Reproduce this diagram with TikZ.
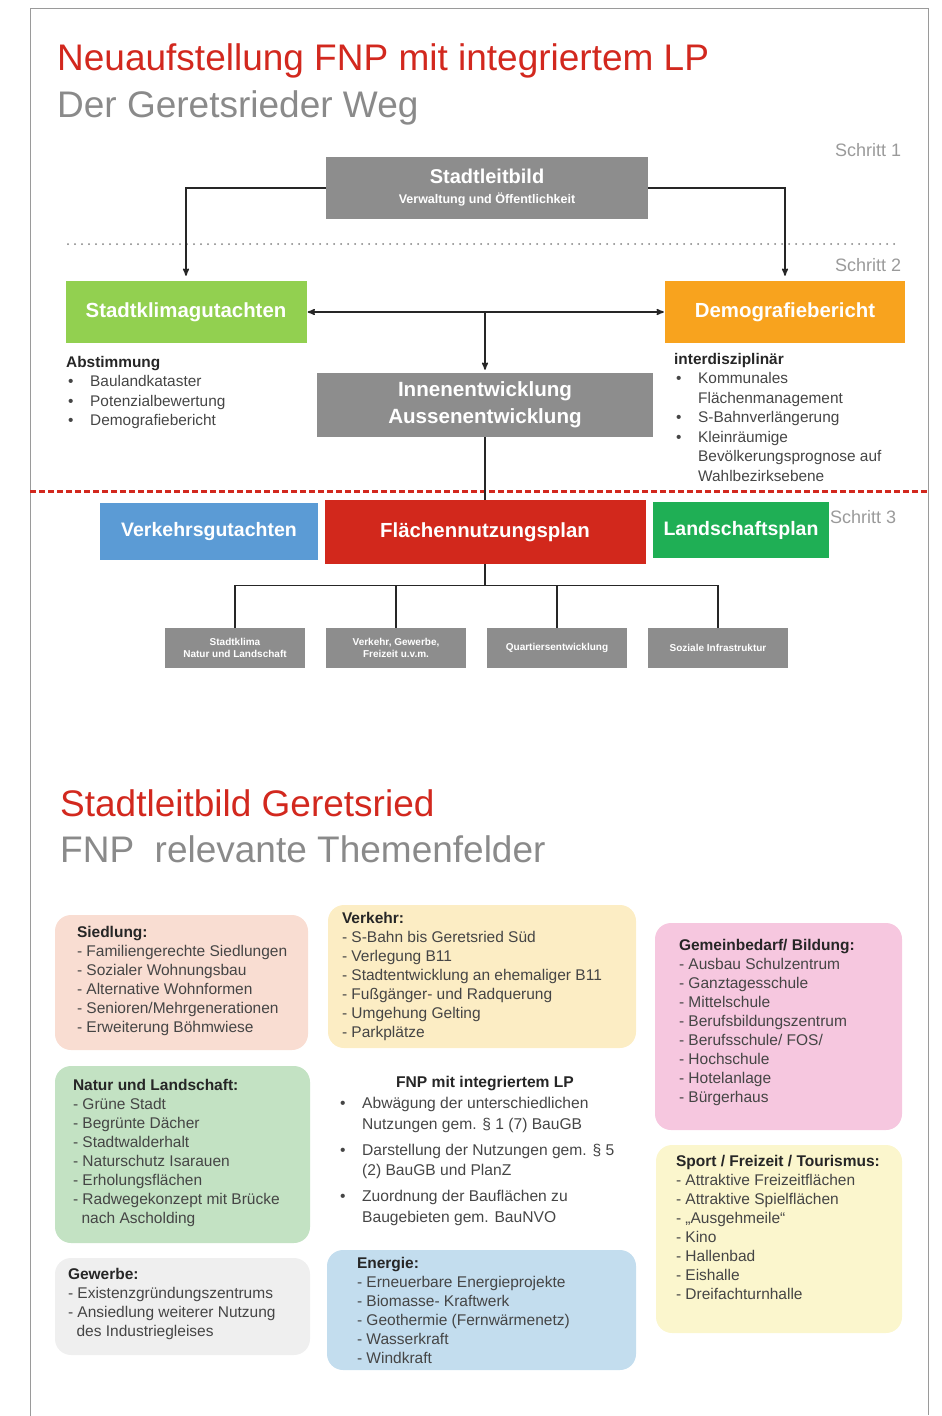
\documentclass[tikz,border=0pt]{standalone}
\usepackage{fontspec}
\setmainfont{Liberation Sans}
\usetikzlibrary{arrows,calc,positioning}
\definecolor{titlered}{HTML}{D2281E}
\definecolor{titlegray}{HTML}{8A8A8A}
\definecolor{framegray}{HTML}{9A9A9A}
\definecolor{boxgray}{HTML}{8D8D8D}
\definecolor{klimagreen}{HTML}{92D050}
\definecolor{demoorange}{HTML}{F8A31E}
\definecolor{verkblue}{HTML}{5B9BD5}
\definecolor{fnpred}{HTML}{D2281C}
\definecolor{lpgreen}{HTML}{1FAF55}
\definecolor{siedlcol}{HTML}{F9DDD2}
\definecolor{verkcol}{HTML}{FCEDC4}
\definecolor{gemeincol}{HTML}{F6C7DF}
\definecolor{naturcol}{HTML}{C3E2C3}
\definecolor{sportcol}{HTML}{FBF6CD}
\definecolor{gewerbecol}{HTML}{EFEFEF}
\definecolor{energiecol}{HTML}{C3DDEE}
\definecolor{textgray}{HTML}{454545}
\newcommand{\punkt}{\makebox[24pt][l]{\hspace{2pt}\textbullet}}
\newcommand{\einzug}{\hspace*{24pt}}
\tikzset{
    headline/.style = {anchor=base west,
                    inner sep=0pt,
                    font=\fontsize{37}{40}\selectfont},
    schritt/.style = {anchor=base west,
                    inner sep=0pt,
                    text=framegray,
                    font=\fontsize{18}{20}\selectfont},
    graybox/.style = {rectangle,
                    fill=boxgray,
                    text=white,
                    inner sep=0pt,
                    align=center,
                    font=\fontsize{20.6}{27}\selectfont\bfseries},
    colbox/.style = {rectangle,
                    text=white,
                    inner sep=0pt,
                    align=center,
                    font=\fontsize{20.4}{24}\selectfont\bfseries},
    subbox/.style = {rectangle,
                    fill=boxgray,
                    text=white,
                    inner sep=0pt,
                    align=center,
                    minimum width=140,
                    minimum height=40,
                    font=\fontsize{10}{12}\selectfont\bfseries},
    themebox/.style = {rectangle,
                    rounded corners=16pt,
                    inner sep=0pt},
    themetext/.style = {anchor=west,
                    inner sep=0pt,
                    align=left,
                    text=textgray,
                    font=\fontsize{15.5}{19}\selectfont},
    notetext/.style = {anchor=north west,
                    inner sep=0pt,
                    align=left,
                    text=textgray,
                    font=\fontsize{15.4}{19.5}\selectfont},
    flow/.style = {line width=1.5pt,
                    draw=black!85},
    dotline/.style = {line width=2pt,
                    draw=black!50,
                    line cap=round,
                    dash pattern=on 0pt off 7pt},
    reddash/.style = {line width=3pt,
                    draw=titlered,
                    dash pattern=on 6pt off 3pt},
    >=stealth',
    shorten >= 1pt}

\begin{document}
\begin{tikzpicture}[x=1pt,y=-1pt]
    \useasboundingbox (0,0) rectangle (942,1416);
    \draw[framegray, line width=1pt] (30,1416) -- (30,8) -- (928,8) -- (928,1416);

    % Der Geretsrieder Weg
    \node[headline, text=titlered]  (title1) at (57,70)  {Neuaufstellung FNP mit integriertem LP};
    \node[headline, text=titlegray] (title2) at (57,117) {Der Geretsrieder Weg};

    \node[schritt] (schritt1) at (835,156) {Schritt 1};
    \node[graybox, font=\fontsize{20}{27}\selectfont\bfseries, minimum width=322, minimum height=62] (leitbild) at (487,188)
        {Stadtleitbild\\[-7pt]{\fontsize{12.5}{14}\selectfont Verwaltung und Öffentlichkeit}};

    \draw[dotline] (68,244) -- (900,244);
    \node[schritt] (schritt2) at (835,271) {Schritt 2};

    \node[colbox, fill=klimagreen, minimum width=241, minimum height=62] (klima) at (186,312) {Stadtklimagutachten};
    \node[colbox, fill=demoorange, minimum width=240, minimum height=62] (demo) at (785,312) {Demografiebericht};
    \node[graybox, minimum width=336, minimum height=64] (innen) at (485,405) {Innenentwicklung\\Aussenentwicklung};

    \node[notetext] (abstimmung) at (66,356)
        {\textcolor{black!85}{\textbf{Abstimmung}}\\
         \punkt Baulandkataster\\
         \punkt Potenzialbewertung\\
         \punkt Demografiebericht};
    \node[notetext] (interdis) at (674,353)
        {\textcolor{black!85}{\textbf{interdisziplinär}}\\
         \punkt Kommunales\\
         \einzug Flächenmanagement\\
         \punkt S-Bahnverlängerung\\
         \punkt Kleinräumige\\
         \einzug Bevölkerungsprognose auf\\
         \einzug Wahlbezirksebene};

    \path [flow, shorten >=5pt] (leitbild.west) edge [->, to path={-| (\tikztotarget)}] (klima.north)
                                (leitbild.east) edge [->, to path={-| (\tikztotarget)}] (demo.north);
    \draw[flow, <->, shorten <=1pt] (klima.east) -- (demo.west);
    \coordinate (split) at (innen.north |- klima.east);
    \draw[flow, ->, shorten >=3pt] (split) -- (innen.north);

    \draw[reddash] (30,491) -- (928,491);
    \node[schritt] (schritt3) at (830,523) {Schritt 3};

    \node[colbox, fill=verkblue, font=\fontsize{19.5}{24}\selectfont\bfseries, minimum width=218, minimum height=57] (verkehr) at (209,531.5) {Verkehrsgutachten};
    \node[colbox, fill=fnpred,   minimum width=321, minimum height=64] (fnp) at (485,532) {Flächennutzungsplan};
    \node[colbox, fill=lpgreen,  font=\fontsize{19.5}{24}\selectfont\bfseries, minimum width=176, minimum height=56] (lp) at (741,530) {Landschaftsplan};
    \draw[flow, shorten >=0pt] (innen.south) -- (fnp.north);

    \node[subbox] (sub1) at (235,648) {Stadtklima\\Natur und Landschaft};
    \node[subbox] (sub2) at (396,648) {Verkehr, Gewerbe,\\Freizeit u.v.m.};
    \node[subbox] (sub3) at (557,648) {Quartiersentwicklung};
    \node[subbox] (sub4) at (718,648) {Soziale Infrastruktur};

    \coordinate (fork) at ($(fnp.south)+(0,21)$);
    \draw[flow, line width=1.2pt, shorten >=0pt] (fnp.south) -- (fork);
    \draw[flow, line width=1.2pt, shorten >=0pt] (sub1 |- fork) -- (sub4 |- fork);
    \foreach \s in {sub1,sub2,sub3,sub4}
        \draw[flow, line width=1.2pt, shorten >=0pt] (\s |- fork) -- (\s.north);

    % Stadtleitbild Geretsried
    \node[headline, text=titlered]  (title3) at (60,816) {Stadtleitbild Geretsried};
    \node[headline, text=titlegray] (title4) at (60,862) {FNP\ \ relevante Themenfelder};

    \node[themebox, fill=siedlcol,   minimum width=253, minimum height=135] (siedlung) at (181.5,982.5) {};
    \node[themebox, fill=verkcol,    minimum width=308, minimum height=143] (verkehrbox) at (482,976.5) {};
    \node[themebox, fill=gemeincol,  minimum width=247, minimum height=207] (gemein) at (778.5,1026.5) {};
    \node[themebox, fill=naturcol,   minimum width=255, minimum height=177] (natur) at (182.5,1154.5) {};
    \node[themebox, fill=sportcol,   minimum width=246, minimum height=188] (sport) at (779,1239) {};
    \node[themebox, fill=gewerbecol, minimum width=255, minimum height=97]  (gewerbe) at (182.5,1306.5) {};
    \node[themebox, fill=energiecol, minimum width=309, minimum height=120] (energie) at (481.5,1310) {};

    \node[themetext] (siedlungtext) at ([xshift=22pt,yshift=2pt]siedlung.west)
        {\textcolor{black!85}{\textbf{Siedlung:}}\\
         - Familiengerechte Siedlungen\\
         - Sozialer Wohnungsbau\\
         - Alternative Wohnformen\\
         - Senioren/Mehrgenerationen\\
         - Erweiterung Böhmwiese};
    \node[themetext] (verkehrtext) at ([xshift=14pt]verkehrbox.west)
        {\textcolor{black!85}{\textbf{Verkehr:}}\\
         - S-Bahn bis Geretsried Süd\\
         - Verlegung B11\\
         - Stadtentwicklung an ehemaliger B11\\
         - Fußgänger- und Radquerung\\
         - Umgehung Gelting\\
         - Parkplätze};
    \node[themetext] (gemeintext) at ([xshift=24pt,yshift=4pt]gemein.west)
        {\textcolor{black!85}{\textbf{Gemeinbedarf/ Bildung:}}\\
         - Ausbau Schulzentrum\\
         - Ganztagesschule\\
         - Mittelschule\\
         - Berufsbildungszentrum\\
         - Berufsschule/ FOS/\\
         - Hochschule\\
         - Hotelanlage\\
         - Bürgerhaus};
    \node[themetext] (naturtext) at ([xshift=18pt,yshift=2pt]natur.west)
        {\textcolor{black!85}{\textbf{Natur und Landschaft:}}\\
         - Grüne Stadt\\
         - Begrünte Dächer\\
         - Stadtwalderhalt\\
         - Naturschutz Isarauen\\
         - Erholungsflächen\\
         - Radwegekonzept mit Brücke\\
         \ \ nach Ascholding};
    \node[themetext] (sporttext) at ([xshift=20pt,yshift=12pt]sport.west)
        {\textcolor{black!85}{\textbf{Sport / Freizeit / Tourismus:}}\\
         - Attraktive Freizeitflächen\\
         - Attraktive Spielflächen\\
         - „Ausgehmeile“\\
         - Kino\\
         - Hallenbad\\
         - Eishalle\\
         - Dreifachturnhalle};
    \node[themetext] (gewerbetext) at ([xshift=13pt,yshift=3pt]gewerbe.west)
        {\textcolor{black!85}{\textbf{Gewerbe:}}\\
         - Existenzgründungszentrums\\
         - Ansiedlung weiterer Nutzung\\
         \ \ des Industriegleises};
    \node[themetext] (energietext) at ([xshift=30pt]energie.west)
        {\textcolor{black!85}{\textbf{Energie:}}\\
         - Erneuerbare Energieprojekte\\
         - Biomasse- Kraftwerk\\
         - Geothermie (Fernwärmenetz)\\
         - Wasserkraft\\
         - Windkraft};

    \node[themetext, anchor=base, text=black!85, font=\fontsize{15.6}{19}\selectfont] (fnplp) at (485,1087) {\textbf{FNP mit integriertem LP}};
    \node[notetext, font=\fontsize{15.6}{20.5}\selectfont] (fnpliste) at (338,1097)
        {\punkt Abwägung der unterschiedlichen\\
         \einzug Nutzungen gem. § 1 (7) BauGB\\[5.5pt]
         \punkt Darstellung der Nutzungen gem. § 5\\
         \einzug (2) BauGB und PlanZ\\[5.5pt]
         \punkt Zuordnung der Bauflächen zu\\
         \einzug Baugebieten gem. BauNVO};
\end{tikzpicture}
\end{document}
